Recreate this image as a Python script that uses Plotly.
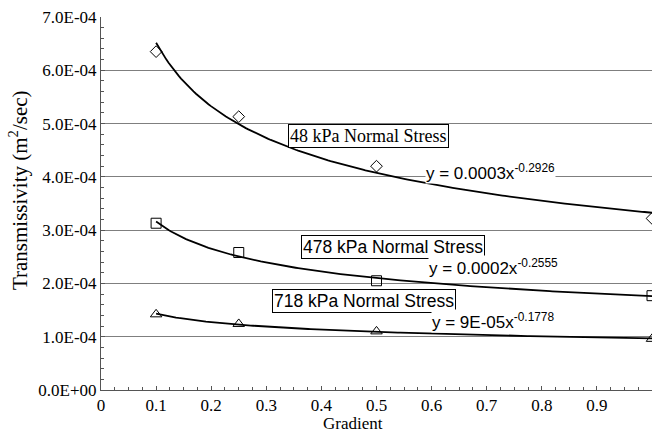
import numpy as np
import plotly.graph_objects as go

gradient = [0.1, 0.25, 0.5, 1.0]
t_48 = [6.35e-4, 5.13e-4, 4.20e-4, 3.22e-4]
t_478 = [3.13e-4, 2.58e-4, 2.05e-4, 1.77e-4]
t_718 = [1.42e-4, 1.24e-4, 1.10e-4, 0.96e-4]

x_ticks = [0, 0.1, 0.2, 0.3, 0.4, 0.5, 0.6, 0.7, 0.8, 0.9, 1.0]
x_ticktext = ["0", "0.1", "0.2", "0.3", "0.4", "0.5", "0.6", "0.7", "0.8", "0.9", "1"]
y_ticks = [0, 1e-4, 2e-4, 3e-4, 4e-4, 5e-4, 6e-4, 7e-4]
y_ticktext = ["0.0E+00", "1.0E-04", "2.0E-04", "3.0E-04", "4.0E-04", "5.0E-04", "6.0E-04", "7.0E-04"]

series_labels = ["48 kPa Normal Stress", "478 kPa Normal Stress", "718 kPa Normal Stress"]
equations = ["y = 0.0003x<sup>-0.2926</sup>", "y = 0.0002x<sup>-0.2555</sup>", "y = 9E-05x<sup>-0.1778</sup>"]
x_title = "Gradient"
y_title = "Transmissivity (m<sup>2</sup>/sec)"

SERIF = "Liberation Serif"
SANS = "Liberation Sans"

fig = go.Figure()

symbols = ["diamond-open", "square-open", "triangle-up-open"]
sizes = [9, 10, 10]
xs = np.array(gradient)
xfit = np.linspace(min(gradient), max(gradient), 200)
for ys, sym, sz in zip([t_48, t_478, t_718], symbols, sizes):
    b, lna = np.polyfit(np.log(xs), np.log(np.array(ys)), 1)
    yfit = np.exp(lna) * xfit ** b
    fig.add_trace(go.Scatter(x=xfit, y=yfit, mode="lines",
                             line=dict(color="black", width=1.8), showlegend=False,
                             hoverinfo="skip"))
    fig.add_trace(go.Scatter(x=gradient, y=ys, mode="markers",
                             marker=dict(symbol=sym, size=sz, color="black",
                                         line=dict(width=1, color="black")),
                             showlegend=False))

# label boxes
box_pos = [(0.4846, 4.765e-4), (0.530, 2.693e-4), (0.477, 1.676e-4)]
box_fonts = [SERIF, SANS, SANS]
box_sizes = [18, 17.5, 17.5]
for lab, (bx, by), fnt, fs in zip(series_labels, box_pos, box_fonts, box_sizes):
    fig.add_annotation(x=bx, y=by, xref="x", yref="y", text=lab, showarrow=False,
                       font=dict(family=fnt, size=fs, color="black"),
                       bgcolor="white", bordercolor="black", borderwidth=1, borderpad=1)

eq_pos = [(0.706, 4.09e-4), (0.713, 2.30e-4), (0.711, 1.30e-4)]
for eq, (ex, ey) in zip(equations, eq_pos):
    fig.add_annotation(x=ex, y=ey, xref="x", yref="y", text=eq, showarrow=False,
                       font=dict(family=SANS, size=17, color="black"),
                       bgcolor="white", borderpad=0)

# axis titles
fig.add_annotation(x=-0.1506, y=0.536, xref="paper", yref="paper", text=y_title,
                   textangle=-90, showarrow=False, xanchor="center", yanchor="middle",
                   font=dict(family=SERIF, size=21, color="black"))
fig.add_annotation(x=0.457, y=-0.0885, xref="paper", yref="paper", text=x_title,
                   showarrow=False, xanchor="center", yanchor="middle",
                   font=dict(family=SERIF, size=17, color="black"))

fig.update_layout(
    width=652, height=432,
    margin=dict(l=101, r=0, t=17, b=42),
    plot_bgcolor="white", paper_bgcolor="white",
    font=dict(family=SERIF, size=17, color="black"),
)
fig.update_xaxes(
    range=[0, 1], tickmode="array", tickvals=x_ticks, ticktext=x_ticktext,
    showgrid=False, zeroline=False,
    showline=True, linecolor="#555", linewidth=1,
    ticks="inside", ticklen=4, tickcolor="#555",
    minor=dict(dtick=0.025, tick0=0, ticks="inside", ticklen=3, tickcolor="#555"),
    tickfont=dict(family=SERIF, size=17, color="black"),
)
fig.update_yaxes(
    range=[0, 7e-4], tickmode="array", tickvals=y_ticks, ticktext=y_ticktext,
    showgrid=True, gridcolor="#7f7f7f", gridwidth=1, zeroline=False,
    showline=True, linecolor="#555", linewidth=1,
    ticks="inside", ticklen=4, tickcolor="#555",
    minor=dict(dtick=2e-5, tick0=0, ticks="inside", ticklen=3, tickcolor="#555", showgrid=False),
    tickfont=dict(family=SERIF, size=17, color="black"),
)

fig.write_html("out.html")
